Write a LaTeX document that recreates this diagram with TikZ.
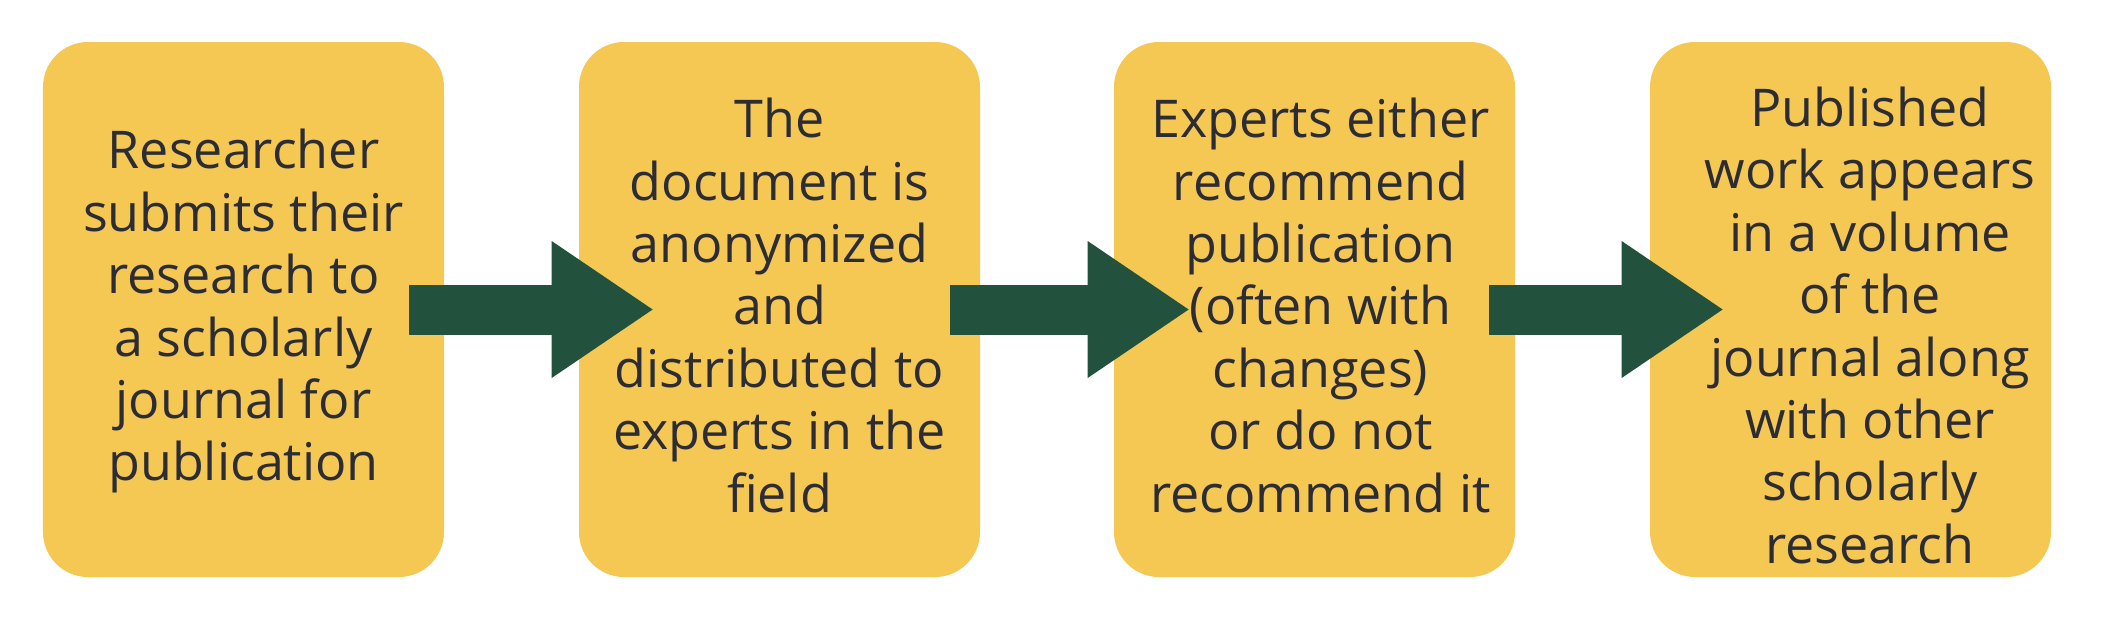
\documentclass[tikz,border=0pt]{standalone}
\usepackage{fontspec}
\setmainfont{Open Sans}
\usepackage{tikz}
\usetikzlibrary{arrows.meta}
\definecolor{boxyellow}{RGB}{244,200,83}
\definecolor{arrowgreen}{RGB}{34,82,61}
\definecolor{textgray}{RGB}{44,44,52}

\begin{document}
\begin{tikzpicture}[x=0.2mm,y=-0.2mm,
  stepbox/.style={fill=boxyellow,rounded corners=9mm,minimum width=80.2mm,minimum height=107mm,inner sep=0pt},
  steptext/.style={text=textgray,align=center,inner sep=0pt,font=\fontsize{29.6}{35.5}\selectfont,
    execute at begin node=\strut,execute at end node=\strut},
  flow/.style={draw=arrowgreen,line width=10mm,-{Triangle[length=20.2mm,width=27.4mm,line width=0pt,fill=arrowgreen]}}]
\useasboundingbox (0,0) rectangle (2109,631);
\node[stepbox] (b1) at (243.5,309.5) {};
\node[stepbox] (b2) at (779.5,309.5) {};
\node[stepbox] (b3) at (1314.5,309.5) {};
\node[stepbox] (b4) at (1850.5,309.5) {};
\node[steptext] (t1) at ([yshift=-1mm]b1.center) {Researcher\\submits their\\research to\\a scholarly\\journal for\\publication};
\node[steptext] (t2) at ([yshift=-1mm]b2.center) {The\\document is\\anonymized\\and\\distributed to\\experts in the\\field};
\node[steptext] (t3) at ([xshift=1.2mm,yshift=-1mm]b3.center) {Experts either\\recommend\\publication\\(often with\\changes)\\or do not\\recommend it};
\node[steptext] (t4) at ([xshift=3.9mm,yshift=-5mm]b4.center) {Published\\work appears\\in a volume\\of the\\journal along\\with other\\scholarly\\research};
% arrows between the steps
\draw[flow] ([xshift=-7mm]b1.east) -- ([xshift=14.8mm]b2.west);
\draw[flow] ([xshift=-6mm]b2.east) -- ([xshift=15mm]b3.west);
\draw[flow] ([xshift=-5.2mm]b3.east) -- ([xshift=14.6mm]b4.west);
\end{tikzpicture}
\end{document}
